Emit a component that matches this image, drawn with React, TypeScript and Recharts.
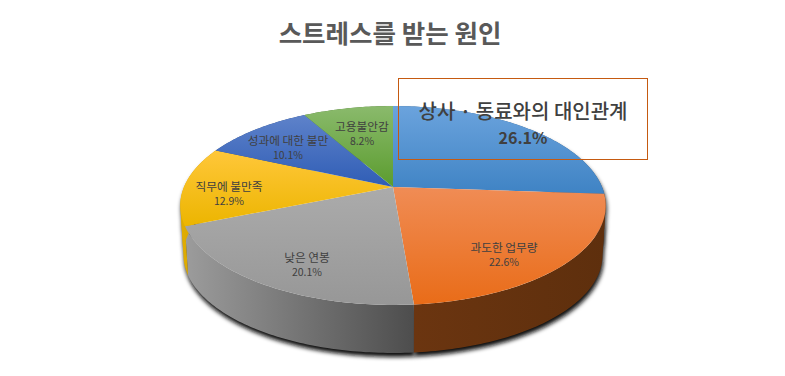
import { Pie, PieChart } from "recharts";

const causes = ["상사 · 동료와의 대인관계", "과도한 업무량", "낮은 연봉", "직무에 불만족", "성과에 대한 불만", "고용불안감"];
const shares = [26.1, 22.6, 20.1, 12.9, 10.1, 8.2];
const rows = causes.map((name, i) => ({ name, value: shares[i] }));

// per slice: top face gradient (light, dark), then wall gradient left to right
const faceColors = [
  ["#6ba3dd", "#3f83c4"],
  ["#f08c55", "#e96c18"],
  ["#ababab", "#979797"],
  ["#ffc73a", "#ecb500"],
  ["#5e82ca", "#2f5db5"],
  ["#8aba6c", "#5b9c2e"],
];
const wallColors = [
  ["#2f5f8c", "#2f5f8c"],
  ["#6b3510", "#5e2f0d"],
  ["#9c9c9c", "#4d4d4d"],
  ["#e2ae00", "#c89a00"],
  ["#2a4a86", "#2a4a86"],
  ["#48752a", "#48752a"],
];
// horizontal extent each wall gradient runs over
const wallSpans = [
  [393, 606],
  [414, 606],
  [185, 414],
  [180, 216],
  [216, 303],
  [303, 393],
];

// label centres
const labelSpots = [
  { x: 523, y: 110 },
  { x: 504, y: 246 },
  { x: 307, y: 256 },
  { x: 229, y: 185 },
  { x: 288, y: 139 },
  { x: 362, y: 125 },
];

const FONT = '"Noto Sans CJK KR", "Noto Sans", sans-serif';
const TILT = 96 / 209; // how flat the disc lies
const PERSPECTIVE = 0.186; // near edge looks bigger than far edge
const BOTTOM_SCALE = 0.985;
const DEPTH = 49.8;
// angles where the disc outline turns back on itself, left and right
const FOLD_ANGLES = [-169.3, -10.7];

type SliceProps = {
  cx: number;
  cy: number;
  outerRadius: number;
  startAngle: number;
  endAngle: number;
  name: string;
};

// recharts angle (degrees, counter clockwise from east) to a point on the tilted disc
function project(angle: number, p: SliceProps, scale: number, shift: number) {
  const rad = (angle * Math.PI) / 180;
  const u = Math.cos(rad);
  const v = -Math.sin(rad);
  const d = 1 - PERSPECTIVE * v;
  const x = p.cx + (p.outerRadius * scale * u) / d;
  const y = p.cy + shift + (p.outerRadius * TILT * scale * v) / d;
  return `${x.toFixed(2)} ${y.toFixed(2)}`;
}

function arc(p: SliceProps, from: number, to: number, scale: number, shift: number) {
  const steps = Math.max(2, Math.ceil(Math.abs(to - from)));
  const points: string[] = [];
  for (let i = 0; i <= steps; i++) {
    points.push(project(from + ((to - from) * i) / steps, p, scale, shift));
  }
  return points;
}

// split at the folds so the overlapping parts of the strip do not cancel out
function wallPaths(p: SliceProps) {
  const lo = Math.min(p.startAngle, p.endAngle);
  const hi = Math.max(p.startAngle, p.endAngle);
  const cuts = [lo, ...FOLD_ANGLES.filter((a) => a > lo && a < hi).sort((a, b) => a - b), hi];
  return cuts.slice(1).map((to, i) => {
    const from = cuts[i];
    const top = arc(p, from, to, 1, 0);
    const bottom = arc(p, from, to, BOTTOM_SCALE, DEPTH).reverse();
    return `M${top.join("L")}L${bottom.join("L")}Z`;
  });
}

function FaceSlice(props: any) {
  const i = causes.indexOf(props.name);
  const d = `M${props.cx} ${props.cy}L${arc(props, props.startAngle, props.endAngle, 1, 0).join("L")}Z`;
  return <path d={d} fill={`url(#face${i})`} stroke="none" />;
}

function WallSlice(props: any) {
  const i = causes.indexOf(props.name);
  return (
    <g>
      {wallPaths(props).map((d) => (
        <path key={d} d={d} fill={`url(#wall${i})`} stroke="none" />
      ))}
    </g>
  );
}

function ShadowSlice(props: any) {
  return (
    <g filter="url(#rimShadow)" transform="translate(1 4)">
      {wallPaths(props).map((d) => (
        <path key={d} d={d} fill="#111" stroke="none" />
      ))}
    </g>
  );
}

function SliceLabel(props: any) {
  const i: number = props.index;
  const spot = labelSpots[i];
  const main = i === 0;
  return (
    <g fontFamily={FONT} fill="#404040" textAnchor="middle">
      {main ? <rect x={398.5} y={78.5} width={249} height={81} fill="none" stroke="#c55a11" strokeWidth={1} /> : null}
      <text x={spot.x} y={spot.y} fontSize={main ? 20 : 11.7} dominantBaseline="central" fontWeight={main ? 500 : 400}>
        {props.name}
      </text>
      <text
        x={spot.x}
        y={spot.y + (main ? 27 : 15)}
        fontSize={main ? 16 : 10.5}
        dominantBaseline="central"
        fontWeight={main ? 700 : 400}
      >
        {shares[i].toFixed(1)}%
      </text>
    </g>
  );
}

export default function App() {
  return (
    <div style={{ position: "absolute", left: 0, top: 0, width: 785, height: 376, background: "#fff" }}>
      <PieChart width={785} height={376} margin={{ top: 0, right: 0, bottom: 0, left: 0 }}>
        <defs>
          {faceColors.map(([from, to], i) => (
            <linearGradient key={i} id={`face${i}`} x1="0" x2="0" y1="0" y2="1">
              <stop offset="0%" stopColor={from} />
              <stop offset="100%" stopColor={to} />
            </linearGradient>
          ))}
          {wallColors.map(([from, to], i) => (
            <linearGradient
              key={i}
              id={`wall${i}`}
              gradientUnits="userSpaceOnUse"
              x1={wallSpans[i][0]}
              x2={wallSpans[i][1]}
              y1="0"
              y2="0"
            >
              <stop offset="0%" stopColor={from} />
              <stop offset="100%" stopColor={to} />
            </linearGradient>
          ))}
          <filter id="rimShadow" x="-20%" y="-30%" width="140%" height="160%">
            <feGaussianBlur stdDeviation="2" />
          </filter>
        </defs>
        <text
          x={390}
          y={31}
          textAnchor="middle"
          dominantBaseline="central"
          fontFamily={FONT}
          fontSize={25.5}
          fontWeight={700}
          fill="#595959"
        >
          스트레스를 받는 원인
        </text>
        <Pie
          data={rows}
          dataKey="value"
          nameKey="name"
          cx={393}
          cy={187}
          outerRadius={209}
          startAngle={90}
          endAngle={-270}
          stroke="none"
          shape={ShadowSlice}
          isAnimationActive={false}
        />
        <Pie
          data={rows}
          dataKey="value"
          nameKey="name"
          cx={393}
          cy={187}
          outerRadius={209}
          startAngle={90}
          endAngle={-270}
          stroke="none"
          shape={WallSlice}
          isAnimationActive={false}
        />
        <Pie
          data={rows}
          dataKey="value"
          nameKey="name"
          cx={393}
          cy={187}
          outerRadius={209}
          startAngle={90}
          endAngle={-270}
          stroke="none"
          shape={FaceSlice}
          label={SliceLabel}
          labelLine={false}
          isAnimationActive={false}
        />
      </PieChart>
    </div>
  );
}
